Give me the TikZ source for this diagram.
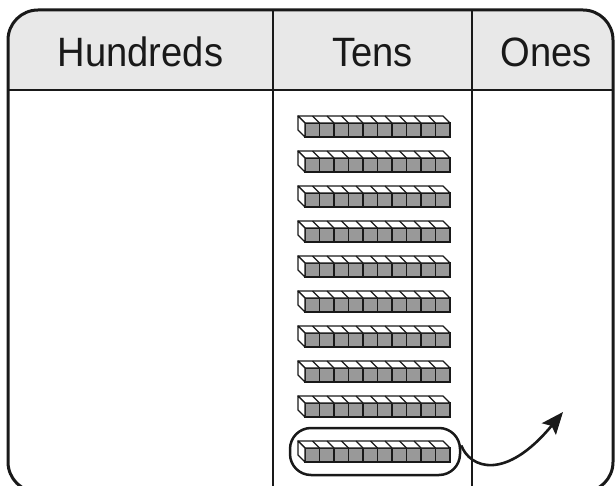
\documentclass[tikz,border=0pt]{standalone}
\usepackage{fontspec}
\setmainfont[FakeStretch=0.93]{Liberation Sans}
\usetikzlibrary{arrows.meta}

\begin{document}
\begin{tikzpicture}[x=1pt, y=-1pt,
    frameStyle/.style={line width=3pt, black!90},
    ruleStyle/.style={line width=2.6pt, black!90},
    headStyle/.style={anchor=base, font=\fontsize{41}{41}\selectfont, text=black!90, inner sep=0pt},
    rodFront/.style={fill=black!40, draw=black!90, line width=1.3pt},
    rodTop/.style={fill=white, draw=black!90, line width=1.3pt, line join=round},
    rodLine/.style={black!90, line width=1.3pt},
    ringStyle/.style={rectangle, draw=black!90, line width=2.5pt, rounded corners=21pt, minimum width=170pt, minimum height=47pt, inner sep=0pt},
    moveStyle/.style={line width=2.6pt, black!90, -{Stealth[length=22pt, width=18pt, inset=4pt]}}]
    \useasboundingbox (0,0) rectangle (615,486);

    \fill[black!9, rounded corners=30pt] (8,90) -- (8,10) -- (613,10) -- (613,90);

    \node[headStyle] (head_H) at (140.5, 67) {Hundreds};
    \node[headStyle] (head_T) at (372.5, 67) {Tens};
    \node[headStyle] (head_O) at (546, 67) {Ones};

    % ten-rods
    \foreach \t in {123,158,...,403,448} {
        \filldraw[rodFront] (305,\t) rectangle (450,\t+14);
        \foreach \i in {1,...,9}
            \draw[rodLine] (305+14.5*\i,\t) -- ++(0,14);
        \filldraw[rodTop] (305,\t) -- (298,\t-7) -- (443,\t-7) -- (450,\t) -- cycle;
        \foreach \i in {1,...,9}
            \draw[rodLine] (305+14.5*\i,\t) -- ++(-7,-7);
        \filldraw[rodTop] (305,\t) -- (298,\t-7) -- (298,\t+7) -- (305,\t+14) -- cycle;
    }

    \node[ringStyle] (carry) at (375, 451.5) {};
    \coordinate (tip) at (563, 412);
    \draw[moveStyle] (carry.4) .. controls (470,468) and (505,482) .. (tip);

    \draw[ruleStyle] (8,90) -- (613,90);
    \draw[ruleStyle] (273,10) -- (273,492);
    \draw[ruleStyle] (472,10) -- (472,492);
    \draw[frameStyle, rounded corners=30pt] (8,10) rectangle (613,492);
\end{tikzpicture}
\end{document}
